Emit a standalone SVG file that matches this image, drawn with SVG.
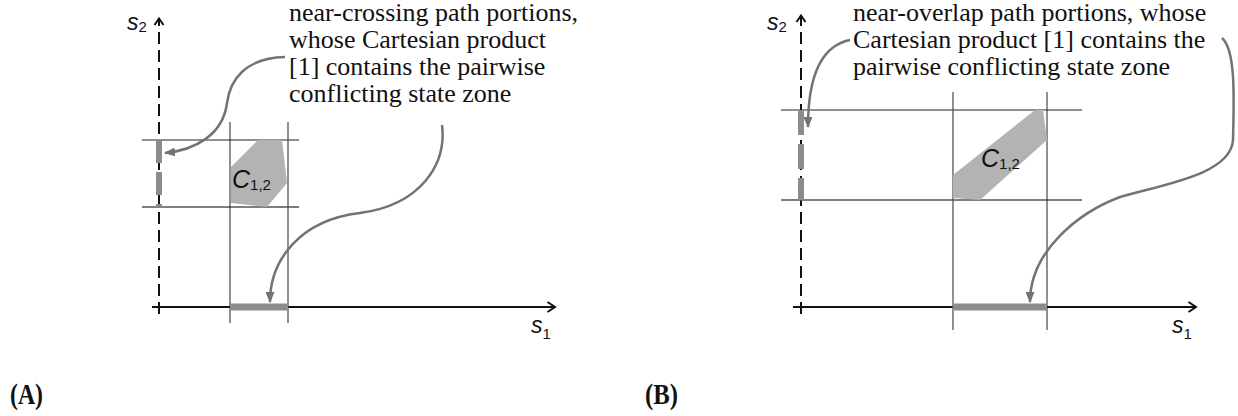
<svg xmlns="http://www.w3.org/2000/svg" width="1238" height="416" viewBox="0 0 1238 416">
<defs>
<style>
.cap{font-family:"Liberation Serif","Times New Roman",serif;font-size:26px;fill:#111}
.lab{font-family:"Liberation Serif","Times New Roman",serif;font-size:30px;font-weight:bold;fill:#111}
.ax{font-family:"Liberation Sans",Arial,sans-serif;font-size:23px;font-style:italic;fill:#111}
.sub{font-size:15px;font-style:normal}
.cz{font-family:"Liberation Sans",Arial,sans-serif;font-size:25px;font-style:italic;fill:#111}
.axis{stroke:#111;stroke-width:2;fill:none}
.dash{stroke:#111;stroke-width:2;fill:none;stroke-dasharray:12 6}
.grid{stroke:#222;stroke-width:1;fill:none}
.grid2{stroke:#555;stroke-width:1.3;fill:none}
.seg{stroke:#8c8c8c;stroke-width:6;fill:none}
.zone{fill:#b3b3b3}
.conn{stroke:#737373;stroke-width:2.5;fill:none;marker-end:url(#ah)}
</style>
<marker id="ah" markerUnits="userSpaceOnUse" markerWidth="11" markerHeight="9" refX="10" refY="4.5" orient="auto">
<path d="M0,0 L11,4.5 L0,9 z" fill="#737373"/>
</marker>
</defs>

<g id="panelA">
<g id="A-axes">
<line class="dash" x1="159" y1="314" x2="159" y2="20"/>
<path class="axis" d="M154.5,25 L159,18.5 L163.5,25"/>
<line class="axis" x1="152" y1="307" x2="554" y2="307"/>
<path class="axis" d="M547.5,302 L555,307 L547.5,312"/>
<text class="ax" x="127" y="30">s<tspan class="sub" dy="2">2</tspan></text>
<text class="ax" x="531" y="333">s<tspan class="sub" dy="6">1</tspan></text>
</g>
<g id="A-grid">
<line class="grid" x1="142" y1="140" x2="299" y2="140"/>
<line class="grid2" x1="142" y1="207" x2="299" y2="207"/>
<line class="grid" x1="230" y1="122" x2="230" y2="323"/>
<line class="grid2" x1="288" y1="122" x2="288" y2="323"/>
</g>
<g id="A-zone">
<polygon class="zone" points="231,167 258,140 282,140 287,183 267,207 231,203"/>
<text class="cz" x="232" y="188">C<tspan class="sub" dy="2">1,2</tspan></text>
</g>
<g id="A-portions">
<line class="seg" x1="159" y1="140" x2="159" y2="207" style="stroke-dasharray:23 9"/>
<rect x="230" y="303.5" width="58" height="7" fill="#8c8c8c"/>
</g>
<g id="A-caption">
<text class="cap" x="289" y="21">near-crossing path portions,</text>
<text class="cap" x="289" y="48">whose Cartesian product</text>
<text class="cap" x="289" y="75">[1] contains the pairwise</text>
<text class="cap" x="289" y="102">conflicting state zone</text>
</g>
<text class="lab" x="10" y="404" textLength="33" lengthAdjust="spacingAndGlyphs">(A)</text>
</g>

<g id="panelB">
<g id="B-axes">
<line class="dash" x1="801" y1="314" x2="801" y2="17"/>
<path class="axis" d="M796.5,22 L801,15.5 L805.5,22"/>
<line class="axis" x1="793" y1="307" x2="1195" y2="307"/>
<path class="axis" d="M1188.5,302 L1196,307 L1188.5,312"/>
<text class="ax" x="767" y="30">s<tspan class="sub" dy="2">2</tspan></text>
<text class="ax" x="1172" y="333">s<tspan class="sub" dy="6">1</tspan></text>
</g>
<g id="B-grid">
<line class="grid" x1="781" y1="110" x2="1082" y2="110"/>
<line class="grid2" x1="781" y1="200" x2="1082" y2="200"/>
<line class="grid2" x1="953" y1="92" x2="953" y2="330"/>
<line class="grid" x1="1047" y1="92" x2="1047" y2="330"/>
</g>
<g id="B-zone">
<polygon class="zone" points="953,175 1035,110 1043,110 1047,140 980,200 953,198"/>
<text class="cz" x="981" y="167">C<tspan class="sub" dy="2">1,2</tspan></text>
</g>
<g id="B-portions">
<line class="seg" x1="801" y1="110" x2="801" y2="200" style="stroke-dasharray:25 9"/>
<rect x="953" y="303.5" width="94" height="7" fill="#8c8c8c"/>
</g>
<g id="B-caption">
<text class="cap" x="853" y="21">near-overlap path portions, whose</text>
<text class="cap" x="853" y="48">Cartesian product [1] contains the</text>
<text class="cap" x="853" y="75">pairwise conflicting state zone</text>
</g>
<text class="lab" x="645" y="404" textLength="33" lengthAdjust="spacingAndGlyphs">(B)</text>
</g>

<g id="connectors">
<path class="conn" d="M285,57 C245,58 230,80 227,103 C223,135 195,150 165,153"/>
<path class="conn" d="M442,125 C447,165 420,205 360,213 C300,220 270,260 270,302"/>
<path class="conn" d="M850,40 C825,45 808,70 808,127"/>
<path class="conn" d="M1222,38 C1236,50 1234,100 1233,140 C1231,175 1160,185 1120,197 C1080,212 1030,250 1030,302"/>
</g>
</svg>
